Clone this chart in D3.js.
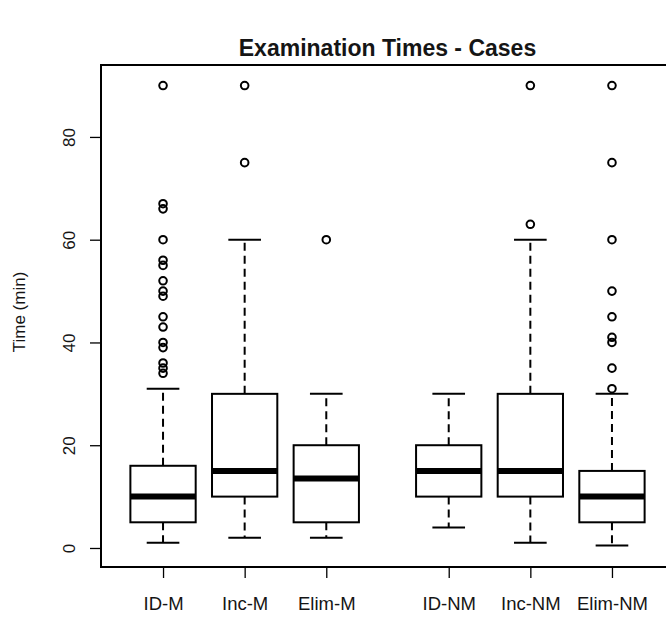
<!DOCTYPE html>
<html>
<head>
<meta charset="utf-8">
<script src="https://cdn.jsdelivr.net/npm/d3@7"></script>
<style>
    body { margin: 0; background: #fff; }
    text { font-family: "Liberation Sans", Arial, sans-serif; fill: #151515; }
</style>
</head>
<body>
<div id="chart"></div>
<script>
'use strict';

// box statistics (minutes)
let categories = ['ID-M', 'Inc-M', 'Elim-M', 'ID-NM', 'Inc-NM', 'Elim-NM'];
let groups = ['M', 'M', 'M', 'NM', 'NM', 'NM'];
let whiskerLow = [1, 2, 2, 4, 1, 0.5];
let q1 = [5, 10, 5, 10, 10, 5];
let medians = [10, 15, 13.5, 15, 15, 10];
let q3 = [16, 30, 20, 20, 30, 15];
let whiskerHigh = [31, 60, 30, 30, 60, 30];
let outliers = [
    [90, 67, 66, 60, 56, 55, 52, 50, 49, 45, 43, 40, 39, 36, 35, 34],
    [90, 75],
    [60],
    [],
    [90, 63],
    [90, 75, 60, 50, 45, 41, 40, 35, 31]
];
let yTicks = [0, 20, 40, 60, 80];

let width = 666,
    height = 618;
let plotLeft = 101,
    plotTop = 65,
    plotBottom = 567;

let svg = d3.select('#chart')
    .append('svg')
    .attr('width', width)
    .attr('height', height);

// a half-step gap between the two groups
let pos = categories.map(function(d, i) {
    return i + 1 + (groups[i] === groups[0] ? 0 : 0.5);
});

let x = d3.scaleLinear()
    .domain([0.24, 7.26])
    .range([plotLeft, 674]);
let y = d3.scaleLinear()
    .domain([-3.7, 94])
    .range([plotBottom, plotTop]);

let boxW = x(0.8) - x(0);
let capW = boxW / 2;

// y axis
let yAxis = svg.append('g')
    .attr('transform', 'translate(' + plotLeft + ',0)')
    .call(d3.axisLeft(y).tickValues(yTicks).tickSize(11).tickSizeOuter(0));
yAxis.select('.domain')
    .attr('d', 'M0,' + y(0) + 'V' + y(80))
    .attr('stroke-width', 1.5);
yAxis.selectAll('.tick line').attr('stroke-width', 1.3);
yAxis.selectAll('.tick text')
    .attr('x', null).attr('dy', null)
    .attr('transform', 'translate(-26,0) rotate(-90)')
    .attr('text-anchor', 'middle')
    .style('font-size', '17px')
    .style('font-family', '"Liberation Sans", Arial, sans-serif');

// x axis
let xAxis = svg.append('g')
    .attr('transform', 'translate(0,' + plotBottom + ')')
    .call(d3.axisBottom(x).tickValues(pos).tickSize(11).tickSizeOuter(0)
        .tickFormat(function(d, i) { return categories[i]; }));
xAxis.select('.domain').remove();
xAxis.selectAll('.tick line').attr('stroke-width', 1.3);
xAxis.selectAll('.tick text')
    .attr('y', 43).attr('dy', null)
    .style('font-size', '18.5px')
    .style('font-family', '"Liberation Sans", Arial, sans-serif');

// plot border
svg.append('rect')
    .attr('x', plotLeft)
    .attr('y', plotTop)
    .attr('width', 720 - plotLeft)
    .attr('height', plotBottom - plotTop)
    .attr('fill', 'none')
    .attr('stroke', '#000')
    .attr('stroke-width', 2);

let boxes = svg.append('g')
    .selectAll('g')
    .data(categories)
    .enter().append('g');

// whiskers
boxes.append('line')
    .attr('x1', function(d, i) { return x(pos[i]); })
    .attr('x2', function(d, i) { return x(pos[i]); })
    .attr('y1', function(d, i) { return y(q3[i]); })
    .attr('y2', function(d, i) { return y(whiskerHigh[i]); })
    .attr('stroke', '#000').attr('stroke-width', 2).attr('stroke-dasharray', '8,5');
boxes.append('line')
    .attr('x1', function(d, i) { return x(pos[i]); })
    .attr('x2', function(d, i) { return x(pos[i]); })
    .attr('y1', function(d, i) { return y(q1[i]); })
    .attr('y2', function(d, i) { return y(whiskerLow[i]); })
    .attr('stroke', '#000').attr('stroke-width', 2).attr('stroke-dasharray', '8,5');

// staples
[whiskerHigh, whiskerLow].forEach(function(arr) {
    boxes.append('line')
        .attr('x1', function(d, i) { return x(pos[i]) - capW / 2; })
        .attr('x2', function(d, i) { return x(pos[i]) + capW / 2; })
        .attr('y1', function(d, i) { return y(arr[i]); })
        .attr('y2', function(d, i) { return y(arr[i]); })
        .attr('stroke', '#000').attr('stroke-width', 2);
});

// boxes
boxes.append('rect')
    .attr('x', function(d, i) { return x(pos[i]) - boxW / 2; })
    .attr('y', function(d, i) { return y(q3[i]); })
    .attr('width', boxW)
    .attr('height', function(d, i) { return y(q1[i]) - y(q3[i]); })
    .attr('fill', '#fff')
    .attr('stroke', '#000')
    .attr('stroke-width', 2);

// medians
boxes.append('line')
    .attr('x1', function(d, i) { return x(pos[i]) - boxW / 2; })
    .attr('x2', function(d, i) { return x(pos[i]) + boxW / 2; })
    .attr('y1', function(d, i) { return y(medians[i]); })
    .attr('y2', function(d, i) { return y(medians[i]); })
    .attr('stroke', '#000')
    .attr('stroke-width', 6);

// outliers
boxes.each(function(d, i) {
    d3.select(this).selectAll('circle')
        .data(outliers[i])
        .enter().append('circle')
        .attr('cx', x(pos[i]))
        .attr('cy', function(v) { return y(v); })
        .attr('r', 3.8)
        .attr('fill', 'none')
        .attr('stroke', '#000')
        .attr('stroke-width', 2);
});

// title and axis label
svg.append('text')
    .attr('x', (plotLeft + 674) / 2)
    .attr('y', 56)
    .attr('text-anchor', 'middle')
    .style('font-size', '23px')
    .style('font-weight', 'bold')
    .text('Examination Times - Cases');

svg.append('text')
    .attr('transform', 'translate(25,' + 312 + ') rotate(-90)')
    .attr('text-anchor', 'middle')
    .style('font-size', '17px')
    .text('Time (min)');
</script>
</body>
</html>
